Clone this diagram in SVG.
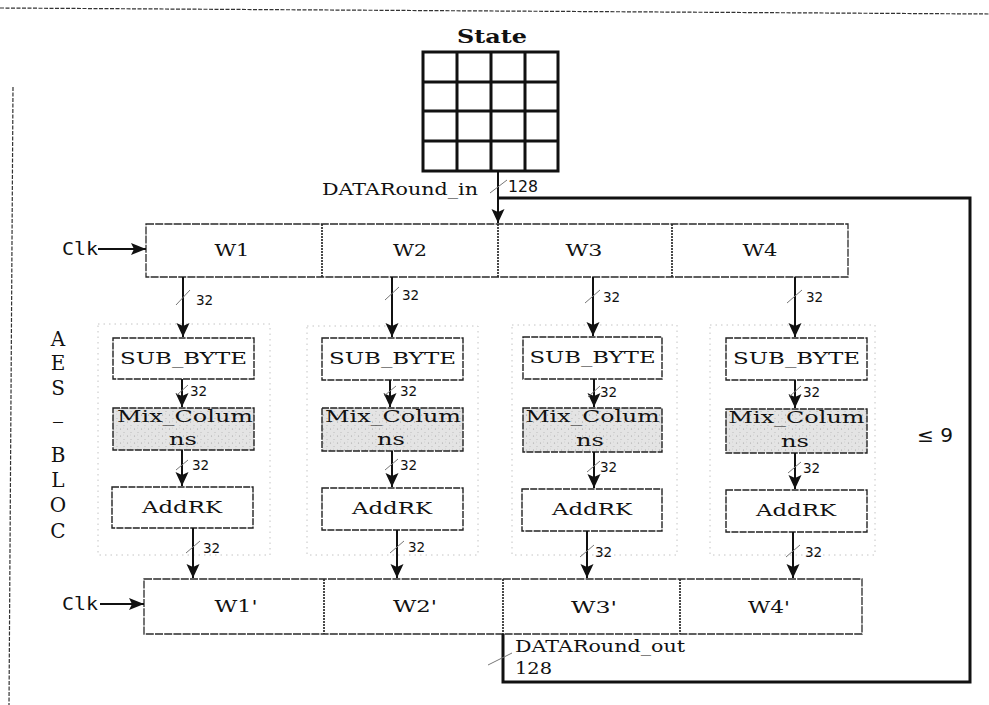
<svg xmlns="http://www.w3.org/2000/svg" width="989" height="705" viewBox="0 0 989 705">
  <style>
    .ser { font-family: "DejaVu Serif", "Liberation Serif", serif; fill: #111; }
    .sans { font-family: "DejaVu Sans", "Liberation Sans", sans-serif; fill: #111; }
    .mono { font-family: "DejaVu Sans Mono", "Liberation Mono", monospace; fill: #111; }
    .box { fill: #ffffff; stroke: #222; stroke-width: 1.4; stroke-dasharray: 7 1.2; }
    .mix { fill: url(#stipple); stroke: #222; stroke-width: 1.4; stroke-dasharray: 7 1.2; }
    .reg { fill: #ffffff; stroke: #2a2a2a; stroke-width: 1.3; stroke-dasharray: 8 1.2; }
    .div { stroke: #2a2a2a; stroke-width: 1.7; stroke-dasharray: 2 1; }
    .grp { fill: none; stroke: #c4c4c4; stroke-width: 1; stroke-dasharray: 1.5 4; }
    .wire { stroke: #111; stroke-width: 2; fill: none; }
    .bus { stroke: #111; stroke-width: 3; fill: none; }
    .tick { stroke: #777; stroke-width: 1; }
    .grid { stroke: #111; stroke-width: 3; fill: none; }
    .frame { stroke: #333; stroke-width: 1.2; stroke-dasharray: 4 1.5; fill: none; }
    .w { font-size: 17px; text-anchor: middle; }
    .n32 { font-size: 13.5px; }
    .letter { font-size: 20px; text-anchor: middle; }
  </style>
  <defs>
    <marker id="ah" viewBox="0 0 13 14" markerWidth="13" markerHeight="14" refX="14" refY="6.5" orient="auto" markerUnits="userSpaceOnUse">
      <path d="M0,0 L14,6.5 L0,13 L3,6.5 z" fill="#111"/>
    </marker>
    <marker id="ahc" viewBox="0 0 15 12" markerWidth="15" markerHeight="12" refX="15" refY="6" orient="auto" markerUnits="userSpaceOnUse">
      <path d="M0,0 L15,6 L0,12 L3,6 z" fill="#111"/>
    </marker>
    <pattern id="stipple" width="7" height="7" patternUnits="userSpaceOnUse">
      <rect width="7" height="7" fill="#e4e4e4"/>
      <circle cx="1.5" cy="2" r="0.6" fill="#a0a0a0"/>
      <circle cx="5" cy="5.5" r="0.5" fill="#b0b0b0"/>
      <circle cx="4.5" cy="1" r="0.4" fill="#bbbbbb"/>
    </pattern>
  </defs>

  <rect width="989" height="705" fill="#ffffff"/>

  <!-- page frame edges -->
  <line class="frame" x1="0" y1="8" x2="989" y2="14"/>
  <line class="frame" x1="13" y1="87" x2="9" y2="705"/>

  <!-- state matrix -->
  <g id="state">
    <text class="ser" x="492" y="43" font-size="18" font-weight="bold" text-anchor="middle" textLength="70" lengthAdjust="spacingAndGlyphs">State</text>
    <rect class="grid" x="423" y="52" width="135" height="119"/>
    <path class="grid" d="M457,52 V171 M491,52 V171 M525,52 V171 M423,82 H558 M423,111 H558 M423,141 H558"/>
  </g>

  <!-- AES_BLOC vertical label -->
  <g id="aes-bloc-label" class="ser letter">
    <text x="58" y="346">A</text>
    <text x="58" y="370">E</text>
    <text x="58" y="395">S</text>
    <text x="58" y="418">_</text>
    <text x="58" y="462">B</text>
    <text x="58" y="487">L</text>
    <text x="58" y="512">O</text>
    <text x="58" y="538">C</text>
  </g>

  <!-- column group outlines -->
  <g id="groups">
    <rect class="grp" x="98" y="324" width="172" height="231"/>
    <rect class="grp" x="307" y="326" width="171" height="229"/>
    <rect class="grp" x="512" y="325" width="165" height="230"/>
    <rect class="grp" x="710" y="325" width="165" height="230"/>
  </g>

  <!-- input register -->
  <g id="reg-in">
    <rect class="reg" x="146" y="224" width="702" height="53"/>
    <line class="div" x1="322" y1="224" x2="322" y2="277"/>
    <line class="div" x1="498" y1="224" x2="498" y2="277"/>
    <line class="div" x1="672" y1="224" x2="672" y2="277"/>
    <text class="ser w" x="232" y="256" textLength="35" lengthAdjust="spacingAndGlyphs">W1</text>
    <text class="ser w" x="410" y="256" textLength="34" lengthAdjust="spacingAndGlyphs">W2</text>
    <text class="ser w" x="584" y="256" textLength="37" lengthAdjust="spacingAndGlyphs">W3</text>
    <text class="ser w" x="760" y="256" textLength="35" lengthAdjust="spacingAndGlyphs">W4</text>
  </g>

  <!-- output register -->
  <g id="reg-out">
    <rect class="reg" x="144" y="579" width="718" height="55"/>
    <line class="div" x1="324" y1="579" x2="324" y2="634"/>
    <line class="div" x1="503" y1="579" x2="503" y2="634"/>
    <line class="div" x1="680" y1="579" x2="680" y2="634"/>
    <text class="ser w" x="236" y="612" textLength="43" lengthAdjust="spacingAndGlyphs">W1'</text>
    <text class="ser w" x="415" y="612" textLength="44" lengthAdjust="spacingAndGlyphs">W2'</text>
    <text class="ser w" x="594" y="613" textLength="46" lengthAdjust="spacingAndGlyphs">W3'</text>
    <text class="ser w" x="769" y="613" textLength="42" lengthAdjust="spacingAndGlyphs">W4'</text>
  </g>

  <!-- column 1 -->
  <g id="col1">
    <rect class="box" x="113" y="338" width="141" height="41"/>
    <text class="ser" x="183.5" y="364" font-size="17.5" text-anchor="middle" textLength="127" lengthAdjust="spacingAndGlyphs">SUB_BYTE</text>
    <rect class="mix" x="113" y="408" width="141" height="42"/>
    <text class="ser" x="185" y="422" font-size="17.5" text-anchor="middle" textLength="136" lengthAdjust="spacingAndGlyphs">Mix_Colum</text>
    <text class="ser" x="183" y="445" font-size="17.5" text-anchor="middle" textLength="28" lengthAdjust="spacingAndGlyphs">ns</text>
    <rect class="box" x="112" y="487" width="141" height="41"/>
    <text class="ser" x="182" y="513" font-size="17.5" text-anchor="middle" textLength="80" lengthAdjust="spacingAndGlyphs">AddRK</text>
  </g>

  <!-- column 2 -->
  <g id="col2">
    <rect class="box" x="322" y="338" width="141" height="42"/>
    <text class="ser" x="392.5" y="364" font-size="17.5" text-anchor="middle" textLength="127" lengthAdjust="spacingAndGlyphs">SUB_BYTE</text>
    <rect class="mix" x="322" y="408" width="141" height="43"/>
    <text class="ser" x="393" y="422" font-size="17.5" text-anchor="middle" textLength="136" lengthAdjust="spacingAndGlyphs">Mix_Colum</text>
    <text class="ser" x="391" y="445" font-size="17.5" text-anchor="middle" textLength="28" lengthAdjust="spacingAndGlyphs">ns</text>
    <rect class="box" x="322" y="488" width="141" height="42"/>
    <text class="ser" x="392" y="514" font-size="17.5" text-anchor="middle" textLength="80" lengthAdjust="spacingAndGlyphs">AddRK</text>
  </g>

  <!-- column 3 -->
  <g id="col3">
    <rect class="box" x="523" y="337" width="139" height="42"/>
    <text class="ser" x="592.5" y="363" font-size="17.5" text-anchor="middle" textLength="126" lengthAdjust="spacingAndGlyphs">SUB_BYTE</text>
    <rect class="mix" x="523" y="408" width="139" height="44"/>
    <text class="ser" x="592.5" y="422" font-size="17.5" text-anchor="middle" textLength="134" lengthAdjust="spacingAndGlyphs">Mix_Colum</text>
    <text class="ser" x="590" y="446" font-size="17.5" text-anchor="middle" textLength="28" lengthAdjust="spacingAndGlyphs">ns</text>
    <rect class="box" x="522" y="489" width="140" height="42"/>
    <text class="ser" x="592" y="515" font-size="17.5" text-anchor="middle" textLength="80" lengthAdjust="spacingAndGlyphs">AddRK</text>
  </g>

  <!-- column 4 -->
  <g id="col4">
    <rect class="box" x="726" y="338" width="141" height="42"/>
    <text class="ser" x="796.5" y="364" font-size="17.5" text-anchor="middle" textLength="127" lengthAdjust="spacingAndGlyphs">SUB_BYTE</text>
    <rect class="mix" x="726" y="409" width="141" height="44"/>
    <text class="ser" x="796.5" y="423" font-size="17.5" text-anchor="middle" textLength="136" lengthAdjust="spacingAndGlyphs">Mix_Colum</text>
    <text class="ser" x="795" y="447" font-size="17.5" text-anchor="middle" textLength="28" lengthAdjust="spacingAndGlyphs">ns</text>
    <rect class="box" x="726" y="490" width="141" height="42"/>
    <text class="ser" x="796" y="516" font-size="17.5" text-anchor="middle" textLength="80" lengthAdjust="spacingAndGlyphs">AddRK</text>
  </g>

  <!-- round count -->
  <g id="round-limit">
    <text class="sans" x="917" y="442" font-size="19" textLength="36" lengthAdjust="spacingAndGlyphs">≤ 9</text>
  </g>

  <!-- connectors -->
  <g id="connectors">
    <!-- state into input register, with feedback bus -->
    <line class="wire" x1="498" y1="171" x2="498" y2="223" marker-end="url(#ah)"/>
    <path class="bus" d="M498,198 H970 V682 H503 V634"/>
    <line class="tick" x1="490" y1="193" x2="507" y2="180"/>
    <line class="tick" x1="488" y1="665" x2="512" y2="653"/>

    <!-- clocks -->
    <line class="wire" x1="98" y1="249" x2="146" y2="249" marker-end="url(#ahc)"/>
    <line class="wire" x1="100" y1="604" x2="144" y2="604" marker-end="url(#ahc)"/>

    <!-- column 1 -->
    <line class="wire" x1="183" y1="277" x2="183" y2="337" marker-end="url(#ah)"/>
    <line class="wire" x1="182" y1="379" x2="182" y2="407" marker-end="url(#ah)"/>
    <line class="wire" x1="182" y1="450" x2="182" y2="486" marker-end="url(#ah)"/>
    <line class="wire" x1="193" y1="528" x2="193" y2="578" marker-end="url(#ah)"/>
    <!-- column 2 -->
    <line class="wire" x1="392" y1="277" x2="392" y2="337" marker-end="url(#ah)"/>
    <line class="wire" x1="390" y1="380" x2="390" y2="407" marker-end="url(#ah)"/>
    <line class="wire" x1="392" y1="451" x2="392" y2="487" marker-end="url(#ah)"/>
    <line class="wire" x1="397" y1="530" x2="397" y2="578" marker-end="url(#ah)"/>
    <!-- column 3 -->
    <line class="wire" x1="593" y1="277" x2="593" y2="336" marker-end="url(#ah)"/>
    <line class="wire" x1="594" y1="379" x2="594" y2="407" marker-end="url(#ah)"/>
    <line class="wire" x1="594" y1="452" x2="594" y2="488" marker-end="url(#ah)"/>
    <line class="wire" x1="587" y1="531" x2="587" y2="578" marker-end="url(#ah)"/>
    <!-- column 4 -->
    <line class="wire" x1="795" y1="277" x2="795" y2="337" marker-end="url(#ah)"/>
    <line class="wire" x1="795" y1="380" x2="795" y2="408" marker-end="url(#ah)"/>
    <line class="wire" x1="795" y1="453" x2="795" y2="489" marker-end="url(#ah)"/>
    <line class="wire" x1="793" y1="532" x2="793" y2="578" marker-end="url(#ah)"/>

    <!-- bus-width ticks -->
    <g class="tick">
      <line x1="176" y1="305" x2="190" y2="290"/>
      <line x1="177" y1="395" x2="188" y2="385"/>
      <line x1="176" y1="470" x2="188" y2="460"/>
      <line x1="186" y1="553" x2="200" y2="541"/>
      <line x1="385" y1="300" x2="399" y2="287"/>
      <line x1="384" y1="396" x2="396" y2="386"/>
      <line x1="385" y1="470" x2="398" y2="459"/>
      <line x1="390" y1="553" x2="404" y2="541"/>
      <line x1="585" y1="303" x2="600" y2="290"/>
      <line x1="588" y1="397" x2="600" y2="386"/>
      <line x1="587" y1="472" x2="600" y2="461"/>
      <line x1="580" y1="557" x2="594" y2="545"/>
      <line x1="787" y1="303" x2="802" y2="290"/>
      <line x1="789" y1="397" x2="801" y2="386"/>
      <line x1="788" y1="473" x2="801" y2="462"/>
      <line x1="786" y1="557" x2="800" y2="545"/>
    </g>
  </g>

  <!-- connector labels -->
  <g id="labels">
    <text class="mono" x="62" y="255" font-size="18" textLength="36" lengthAdjust="spacingAndGlyphs">Clk</text>
    <text class="mono" x="62" y="610" font-size="18" textLength="36" lengthAdjust="spacingAndGlyphs">Clk</text>
    <text class="ser" x="322" y="195" font-size="17" textLength="156" lengthAdjust="spacingAndGlyphs">DATARound_in</text>
    <text class="sans" x="508" y="192" font-size="15" textLength="30" lengthAdjust="spacingAndGlyphs">128</text>
    <text class="ser" x="515" y="652" font-size="17" textLength="170" lengthAdjust="spacingAndGlyphs">DATARound_out</text>
    <text class="ser" x="515" y="674" font-size="17" textLength="37" lengthAdjust="spacingAndGlyphs">128</text>
    <g class="sans n32">
      <text x="196" y="305">32</text>
      <text x="190" y="396">32</text>
      <text x="192" y="470">32</text>
      <text x="203" y="553">32</text>
      <text x="402" y="300">32</text>
      <text x="400" y="396">32</text>
      <text x="400" y="470">32</text>
      <text x="408" y="552">32</text>
      <text x="603" y="302">32</text>
      <text x="600" y="397">32</text>
      <text x="600" y="472">32</text>
      <text x="595" y="557">32</text>
      <text x="806" y="302">32</text>
      <text x="803" y="397">32</text>
      <text x="803" y="473">32</text>
      <text x="805" y="557">32</text>
    </g>
  </g>
</svg>
